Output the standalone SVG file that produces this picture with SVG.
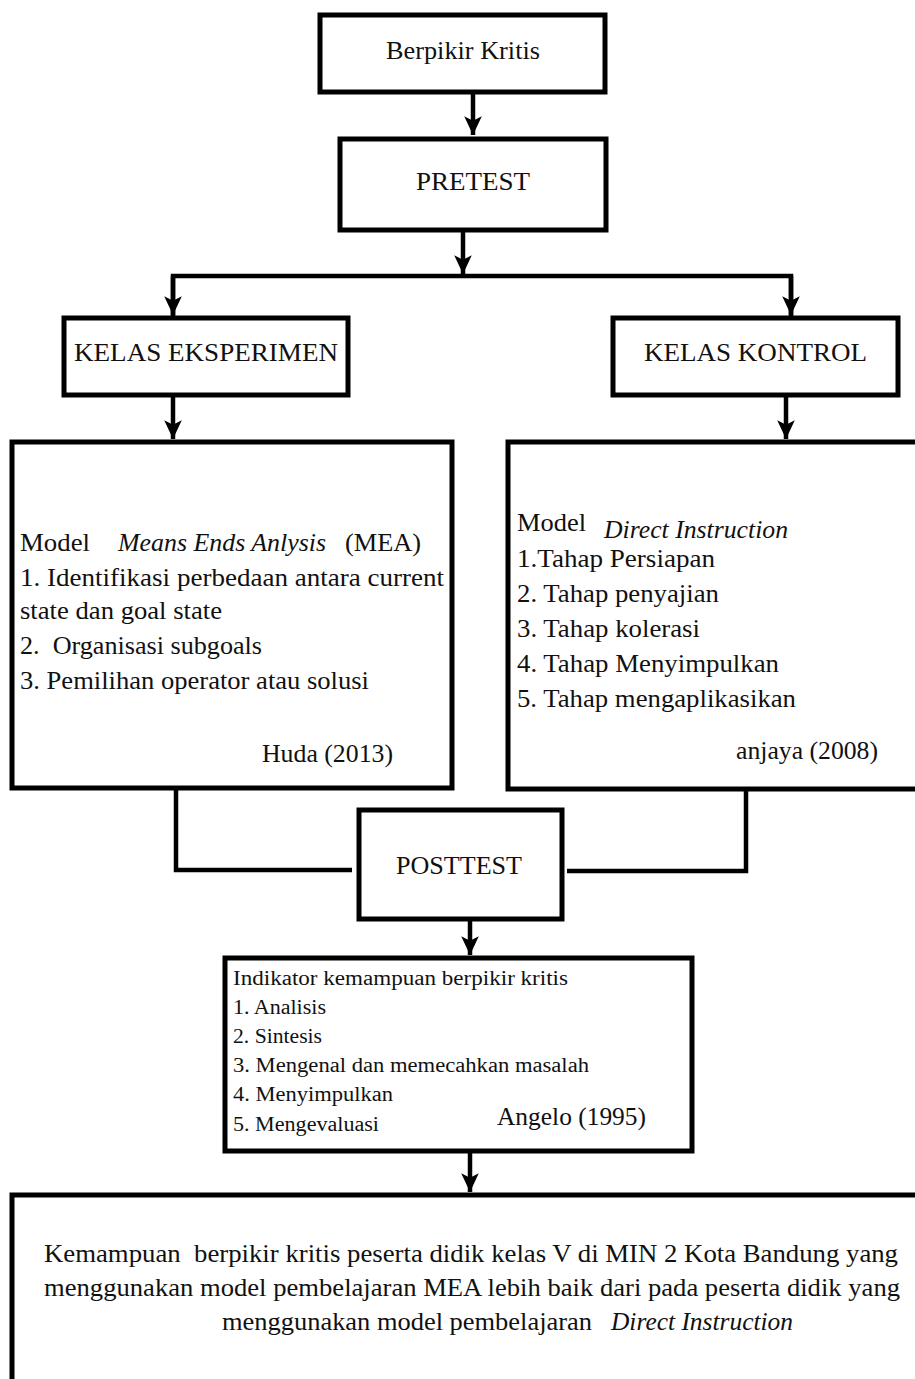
<svg xmlns="http://www.w3.org/2000/svg" width="915" height="1379" viewBox="0 0 915 1379">
<defs>
<marker id="arr" markerUnits="userSpaceOnUse" markerWidth="22" markerHeight="22" viewBox="-1 -10 19 20" refX="17" refY="0" orient="auto">
<path d="M0,-8 L17,0 L0,8 L4,0 z" fill="#000"/>
</marker>
<style>
.box{fill:#fff;stroke:#000;stroke-width:5}
.ln{fill:none;stroke:#000;stroke-width:4.5}
.t{font-family:"Liberation Serif","Times New Roman",serif;fill:#111}
.i{font-style:italic}
.s22{font-size:25px}
.s19{font-size:20px}
</style>
</defs>
<rect width="915" height="1379" fill="#fff"/>
<g id="connectors">
<line class="ln" x1="473" y1="94" x2="473" y2="135" marker-end="url(#arr)"/>
<line class="ln" x1="463" y1="232" x2="463" y2="274" marker-end="url(#arr)"/>
<polyline class="ln" points="173,318 173,276 791,276 791,318"/>
<line class="ln" x1="173" y1="276" x2="173" y2="315" marker-end="url(#arr)"/>
<line class="ln" x1="791" y1="276" x2="791" y2="315" marker-end="url(#arr)"/>
<line class="ln" x1="173" y1="397" x2="173" y2="439" marker-end="url(#arr)"/>
<line class="ln" x1="786" y1="397" x2="786" y2="439" marker-end="url(#arr)"/>
<polyline class="ln" points="176,790 176,870 352,870"/>
<polyline class="ln" points="746,791 746,871 567,871"/>
<line class="ln" x1="470" y1="921" x2="470" y2="955" marker-end="url(#arr)"/>
<line class="ln" x1="470" y1="1153" x2="470" y2="1192" marker-end="url(#arr)"/>
</g>
<g id="n-berpikir">
<rect class="box" x="320" y="15" width="285" height="77"/>
<text class="t s22" x="386" y="59" textLength="154" lengthAdjust="spacingAndGlyphs">Berpikir Kritis</text>
</g>
<g id="n-pretest">
<rect class="box" x="340" y="139" width="266" height="91"/>
<text class="t s22" x="416" y="190" textLength="114" lengthAdjust="spacingAndGlyphs">PRETEST</text>
</g>
<g id="n-eksperimen">
<rect class="box" x="64" y="318" width="284" height="77"/>
<text class="t s22" x="74" y="361" textLength="264" lengthAdjust="spacingAndGlyphs">KELAS EKSPERIMEN</text>
</g>
<g id="n-kontrol">
<rect class="box" x="613" y="318" width="285" height="77"/>
<text class="t s22" x="644" y="361" textLength="223" lengthAdjust="spacingAndGlyphs">KELAS KONTROL</text>
</g>
<g id="n-mea">
<rect class="box" x="12" y="442" width="440" height="346"/>
<text class="t s22" x="20" y="551" textLength="70" lengthAdjust="spacingAndGlyphs">Model</text>
<text class="t s22 i" x="118" y="551" textLength="208" lengthAdjust="spacingAndGlyphs">Means Ends Anlysis</text>
<text class="t s22" x="345" y="551" textLength="76" lengthAdjust="spacingAndGlyphs">(MEA)</text>
<text class="t s22" x="20" y="586" textLength="424" lengthAdjust="spacingAndGlyphs">1. Identifikasi perbedaan antara current</text>
<text class="t s22" x="20" y="619" textLength="202" lengthAdjust="spacingAndGlyphs">state dan goal state</text>
<text class="t s22" x="20" y="654" xml:space="preserve" textLength="242" lengthAdjust="spacingAndGlyphs">2.  Organisasi subgoals</text>
<text class="t s22" x="20" y="689" textLength="349" lengthAdjust="spacingAndGlyphs">3. Pemilihan operator atau solusi</text>
<text class="t s22" x="262" y="762" textLength="131" lengthAdjust="spacingAndGlyphs">Huda (2013)</text>
</g>
<g id="n-direct">
<rect class="box" x="508" y="442" width="420" height="347"/>
<text class="t s22" x="517" y="531" textLength="69" lengthAdjust="spacingAndGlyphs">Model</text>
<text class="t s22 i" x="604" y="538" textLength="184" lengthAdjust="spacingAndGlyphs">Direct Instruction</text>
<text class="t s22" x="517" y="567" textLength="198" lengthAdjust="spacingAndGlyphs">1.Tahap Persiapan</text>
<text class="t s22" x="517" y="602" textLength="202" lengthAdjust="spacingAndGlyphs">2. Tahap penyajian</text>
<text class="t s22" x="517" y="637" textLength="183" lengthAdjust="spacingAndGlyphs">3. Tahap kolerasi</text>
<text class="t s22" x="517" y="672" textLength="262" lengthAdjust="spacingAndGlyphs">4. Tahap Menyimpulkan</text>
<text class="t s22" x="517" y="707" textLength="279" lengthAdjust="spacingAndGlyphs">5. Tahap mengaplikasikan</text>
<text class="t s22" x="736" y="759" textLength="142" lengthAdjust="spacingAndGlyphs">anjaya (2008)</text>
</g>
<g id="n-posttest">
<rect class="box" x="359" y="810" width="203" height="109"/>
<text class="t s22" x="396" y="874" textLength="126" lengthAdjust="spacingAndGlyphs">POSTTEST</text>
</g>
<g id="n-indikator">
<rect class="box" x="225" y="958" width="467" height="193"/>
<text class="t s19" x="233" y="985" textLength="335" lengthAdjust="spacingAndGlyphs">Indikator kemampuan berpikir kritis</text>
<text class="t s19" x="233" y="1014" textLength="93" lengthAdjust="spacingAndGlyphs">1. Analisis</text>
<text class="t s19" x="233" y="1043" textLength="89" lengthAdjust="spacingAndGlyphs">2. Sintesis</text>
<text class="t s19" x="233" y="1072" textLength="356" lengthAdjust="spacingAndGlyphs">3. Mengenal dan memecahkan masalah</text>
<text class="t s19" x="233" y="1101" textLength="160" lengthAdjust="spacingAndGlyphs">4. Menyimpulkan</text>
<text class="t s19" x="233" y="1131" textLength="146" lengthAdjust="spacingAndGlyphs">5. Mengevaluasi</text>
<text class="t s22" x="497" y="1125" textLength="149" lengthAdjust="spacingAndGlyphs">Angelo (1995)</text>
</g>
<g id="n-kesimpulan">
<rect class="box" x="12" y="1195" width="920" height="200"/>
<text class="t s22" x="44" y="1262" xml:space="preserve" textLength="854" lengthAdjust="spacingAndGlyphs">Kemampuan  berpikir kritis peserta didik kelas V di MIN 2 Kota Bandung yang</text>
<text class="t s22" x="44" y="1296" textLength="856" lengthAdjust="spacingAndGlyphs">menggunakan model pembelajaran MEA lebih baik dari pada peserta didik yang</text>
<text class="t s22" x="222" y="1330" textLength="370" lengthAdjust="spacingAndGlyphs">menggunakan model pembelajaran</text>
<text class="t s22 i" x="611" y="1330" textLength="182" lengthAdjust="spacingAndGlyphs">Direct Instruction</text>
</g>
</svg>
